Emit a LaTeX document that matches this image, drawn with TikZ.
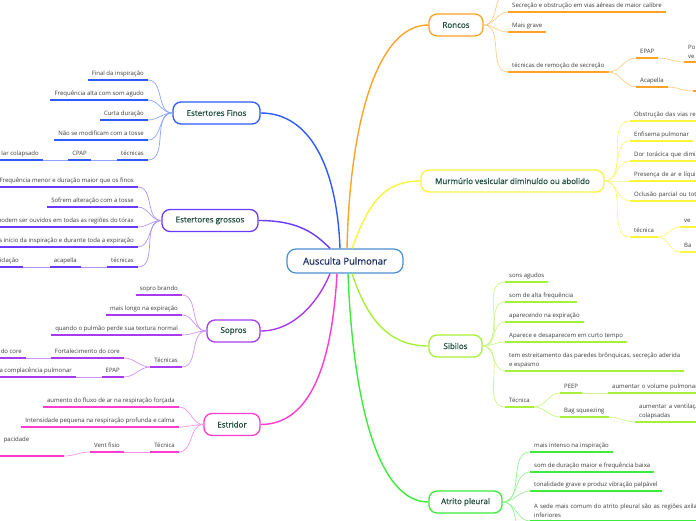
\documentclass[tikz,border=0pt]{standalone}
\usepackage{fontspec}
\setmainfont{Open Sans}
\newfontfamily\topicfont{Open Sans}[FakeBold=0.4]
\definecolor{cAU}{HTML}{4A90D0}
\definecolor{cEF}{HTML}{2D5BFF}
\definecolor{cEG}{HTML}{6A3BFF}
\definecolor{cSO}{HTML}{A83BF0}
\definecolor{cES}{HTML}{FF3BD0}
\definecolor{cRO}{HTML}{FFA326}
\definecolor{cMV}{HTML}{F7F53C}
\definecolor{cSI}{HTML}{A6F03A}
\definecolor{cAP}{HTML}{3DEB3D}
\definecolor{centraltext}{HTML}{1B2A5E}
\definecolor{topictext}{HTML}{1F4D3F}
\definecolor{leaftext}{HTML}{3A3A3A}
\newcommand{\leaffont}{\fontsize{6}{9}\selectfont}
\tikzstyle{central}=[draw=cAU,fill=white,rounded corners=9pt,line width=1.2pt,minimum width=116pt,minimum height=24pt,font=\topicfont\fontsize{9.5}{11}\selectfont,text=centraltext]
\tikzstyle{topic}=[fill=white,rounded corners=8pt,line width=1.3pt,minimum height=22pt,inner xsep=4pt,font=\topicfont\fontsize{8}{9}\selectfont,text=topictext]
\tikzstyle{leafl}=[anchor=south east,inner xsep=4pt,inner ysep=3pt,text height=4.3pt,text depth=1.3pt,font=\leaffont,text=leaftext,align=right]
\tikzstyle{leafr}=[anchor=south west,inner xsep=4pt,inner ysep=3pt,text height=4.3pt,text depth=1.3pt,font=\leaffont,text=leaftext,align=left]
\tikzstyle{asis}=[]
\tikzstyle{twoline}=[text height=,text depth=]
\tikzstyle{runoff}=[text width=95pt]
\tikzstyle{runofftwo}=[runoff,twoline]
\tikzstyle{runoffwide}=[text width=185pt,twoline]
\tikzstyle{lowtext}=[text width=56pt,align=left,text depth=11pt]
\tikzstyle{uline}=[line width=1.8pt]
\tikzstyle{twig}=[line width=0.7pt]
\tikzstyle{limb}=[line width=1.4pt]

\begin{document}
\begin{tikzpicture}[x=1pt,y=-1pt]
\useasboundingbox (0,0) rectangle (696,520);

%topics
\node[central] (ausc) at (345,261) {Ausculta Pulmonar};
\foreach \pos/\name/\wid/\col/\label in {{(216.5,113)/ef/87/cEF/Estertores Finos}, {(210,220.5)/eg/96/cEG/Estertores grossos}, {(233.5,331)/sop/53/cSO/Sopros}, {(232,424.5)/est/56/cES/Estridor}, {(456,25)/ron/54/cRO/Roncos}, {(512.5,181)/mur/183/cMV/Murmúrio vesicular diminuído ou abolido}, {(455.5,346)/sib/53/cSI/Sibilos}, {(465.5,502)/atr/73/cAP/Atrito pleural}}
    \node[topic,draw=\col,minimum width=\wid pt] (\name) at \pos {\label};

\draw[limb,cEF] ([xshift=-5pt]ausc.north) .. controls +(-3,-80) and +(50,0) .. (ef.east);
\draw[limb,cEG] ([xshift=-15pt]ausc.north) .. controls +(-15,-15) and +(40,0) .. (eg.east);
\draw[limb,cSO] ([xshift=-15pt]ausc.south) .. controls +(-10,25) and +(35,0) .. (sop.east);
\draw[limb,cES] ([xshift=-8pt]ausc.south) .. controls +(-5,90) and +(50,0) .. (est.east);
\draw[limb,cRO] ([xshift=2pt]ausc.north) .. controls +(3,-130) and +(-50,0) .. (ron.west);
\draw[limb,cMV] ([xshift=7pt]ausc.north) .. controls +(15,-40) and +(-40,0) .. (mur.west);
\draw[limb,cSI] ([xshift=7pt]ausc.south) .. controls +(15,45) and +(-40,0) .. (sib.west);
\draw[limb,cAP] ([xshift=3pt]ausc.south) .. controls +(5,130) and +(-50,0) .. (atr.west);

%Estertores Finos
\def\col{cEF}
\foreach \pos/\name/\sty/\label in {{(148,80)/ef1/asis/Final da inspiração}, {(148,100)/ef2/asis/Frequência alta com som agudo}, {(148,120)/ef3/asis/Curta duração}, {(148,140)/ef4/asis/Não se modificam com a tosse}, {(148,160)/ef5/asis/técnicas}, {(91,160)/ef6/asis/CPAP}, {(43,160)/ef7/asis/lar colapsado}}
    \node[leafl,\sty] (\name) at \pos {\label};
\foreach \name in {ef1,ef2,ef3,ef4,ef5}
    \draw[twig,color=\col!55] (ef.west) to[out=180,in=0] (\name.south east);
\foreach \source/\dest in {ef5/ef6, ef6/ef7}
    \draw[twig,color=\col!55] (\source.south west) -- (\dest.south east);
\foreach \name in {ef1,ef2,ef3,ef4,ef5,ef6,ef7}
    \draw[uline,color=\col] (\name.south west) -- (\name.south east);

%Estertores grossos
\def\col{cEG}
\foreach \pos/\name/\sty/\label in {{(138,187)/eg1/asis/Frequência menor e duração maior que os finos}, {(138,207)/eg2/asis/Sofrem alteração com a tosse}, {(138,227)/eg3/asis/podem ser ouvidos em todas as regiões do tórax}, {(138,247)/eg4/asis/s início da inspiração e durante toda a expiração}, {(138,267)/eg5/asis/técnicas}, {(81,267)/eg6/asis/acapella}, {(23,267)/eg7/asis/ciclação}}
    \node[leafl,\sty] (\name) at \pos {\label};
\foreach \name in {eg1,eg2,eg3,eg4,eg5}
    \draw[twig,color=\col!55] (eg.west) to[out=180,in=0] (\name.south east);
\foreach \source/\dest in {eg5/eg6, eg6/eg7}
    \draw[twig,color=\col!55] (\source.south west) -- (\dest.south east);
\foreach \name in {eg1,eg2,eg3,eg4,eg5,eg6,eg7}
    \draw[uline,color=\col] (\name.south west) -- (\name.south east);

%Sopros
\def\col{cSO}
\foreach \pos/\name/\sty/\label in {{(182,295)/so1/asis/sopro brando}, {(182,315)/so2/asis/mais longo na expiração}, {(182,335)/so3/asis/quando o pulmão perde sua textura normal}, {(182,367)/so4/asis/Técnicas}, {(124,358)/so5/asis/Fortalecimento do core}, {(124,377)/so6/asis/EPAP}, {(26,358)/so7/asis/do core}, {(76,377)/so8/asis/a complacência pulmonar}}
    \node[leafl,\sty] (\name) at \pos {\label};
\foreach \name in {so1,so2,so3,so4}
    \draw[twig,color=\col!55] (sop.west) to[out=180,in=0] (\name.south east);
\foreach \source/\dest in {so4/so5, so4/so6}
    \draw[twig,color=\col!55] (\source.south west) to[out=180,in=0] (\dest.south east);
\foreach \source/\dest in {so5/so7, so6/so8}
    \draw[twig,color=\col!55] (\source.south west) -- (\dest.south east);
\foreach \name in {so1,so2,so3,so4,so5,so6,so7,so8}
    \draw[uline,color=\col] (\name.south west) -- (\name.south east);

%Estridor
\def\col{cES}
\foreach \pos/\name/\sty/\label in {{(179,407)/es1/asis/aumento do fluxo de ar na respiração forçada}, {(179,427)/es2/asis/Intensidade pequena na respiração profunda e calma}, {(179,452)/es3/asis/Técnica}, {(124,452)/es4/asis/Vent fisio}, {(64,456)/es5/lowtext/pacidade}}
    \node[leafl,\sty] (\name) at \pos {\label};
\foreach \name in {es1,es2,es3}
    \draw[twig,color=\col!55] (est.west) to[out=180,in=0] (\name.south east);
\draw[twig,color=\col!55] (es3.south west) -- (es4.south east);
\draw[twig,color=\col!55] (es4.south west) to[out=180,in=0] (es5.south east);
\foreach \name in {es1,es2,es3,es4,es5}
    \draw[uline,color=\col] (\name.south west) -- (\name.south east);

%Roncos
\def\col{cRO}
\coordinate (ro0) at (508,-8);
\foreach \pos/\name/\sty/\label in {{(508,12)/ro1/asis/Secreção e obstrução em vias aéreas de maior calibre}, {(508,32)/ro2/asis/Mais grave}, {(508,72)/ro3/asis/técnicas de remoção de secreção}, {(636,58)/ro4/asis/EPAP}, {(636,87)/ro5/asis/Acapella}, {(684,62)/ro6/runofftwo/Po\\ve}, {(693,91)/ro7/runoff/{}}}
    \node[leafr,\sty] (\name) at \pos {\label};
\draw[twig,color=\col!55] (ron.east) to[out=0,in=180] (ro0);
\foreach \name in {ro1,ro2,ro3}
    \draw[twig,color=\col!55] (ron.east) to[out=0,in=180] (\name.south west);
\foreach \source/\dest in {ro3/ro4, ro3/ro5, ro4/ro6, ro5/ro7}
    \draw[twig,color=\col!55] (\source.south east) to[out=0,in=180] (\dest.south west);
\foreach \name in {ro1,ro2,ro3,ro4,ro5,ro6,ro7}
    \draw[uline,color=\col] (\name.south west) -- (\name.south east);

%Murmurio vesicular
\def\col{cMV}
\foreach \pos/\name/\sty/\label in {{(630,121)/mv1/runoff/Obstrução das vias re}, {(630,141)/mv2/asis/Enfisema pulmonar}, {(630,161)/mv3/runoff/Dor torácica que dimi}, {(630,181)/mv4/runoff/Presença de ar e líqui}, {(630,201)/mv5/runoff/Oclusão parcial ou tota}, {(630,237)/mv6/asis/técnica}, {(680,227)/mv7/runoff/ve}, {(680,252)/mv8/runoff/Ba}}
    \node[leafr,\sty] (\name) at \pos {\label};
\foreach \name in {mv1,mv2,mv3,mv4,mv5,mv6}
    \draw[twig,color=\col!70] (mur.east) to[out=0,in=180] (\name.south west);
\foreach \source/\dest in {mv6/mv7, mv6/mv8}
    \draw[twig,color=\col!70] (\source.south east) to[out=0,in=180] (\dest.south west);
\foreach \name in {mv1,mv2,mv3,mv4,mv5,mv6,mv7,mv8}
    \draw[uline,color=\col] (\name.south west) -- (\name.south east);

%Sibilos
\def\col{cSI}
\foreach \pos/\name/\sty/\label in {{(505,282)/si1/asis/sons agudos}, {(505,302)/si2/asis/som de alta frequência}, {(505,322)/si3/asis/aparecendo na expiração}, {(505,342)/si4/asis/Aparece e desaparecem em curto tempo}, {(505,371)/si5/twoline/{tem estreitamento das paredes brônquicas, secreção aderida\\e espasmo}}, {(505,407)/si6/asis/Técnica}, {(560,393)/si7/asis/PEEP}, {(560,417)/si8/asis/Bag squeezing}, {(608,393)/si9/runoff/aumentar o volume pulmonar}, {(635,422)/si10/runofftwo/aumentar a ventilação\\colapsadas}}
    \node[leafr,\sty] (\name) at \pos {\label};
\foreach \name in {si1,si2,si3,si4,si5,si6}
    \draw[twig,color=\col!60] (sib.east) to[out=0,in=180] (\name.south west);
\foreach \source/\dest in {si6/si7, si6/si8, si8/si10}
    \draw[twig,color=\col!60] (\source.south east) to[out=0,in=180] (\dest.south west);
\draw[twig,color=\col!60] (si7.south east) -- (si9.south west);
\foreach \name in {si1,si2,si3,si4,si5,si6,si7,si8,si9,si10}
    \draw[uline,color=\col] (\name.south west) -- (\name.south east);

%Atrito pleural
\def\col{cAP}
\coordinate (ap5) at (530,545);
\foreach \pos/\name/\sty/\label in {{(530,452)/ap1/asis/mais intenso na inspiração}, {(530,472)/ap2/asis/som de duração maior e frequência baixa}, {(530,491)/ap3/asis/tonalidade grave e produz vibração palpável}, {(530,521)/ap4/runoffwide/A sede mais comum do atrito pleural são as regiões axilar\\inferiores}}
    \node[leafr,\sty] (\name) at \pos {\label};
\draw[twig,color=\col!55] (atr.east) to[out=0,in=180] (ap5);
\foreach \name in {ap1,ap2,ap3,ap4}
    \draw[twig,color=\col!55] (atr.east) to[out=0,in=180] (\name.south west);
\foreach \name in {ap1,ap2,ap3,ap4}
    \draw[uline,color=\col] (\name.south west) -- (\name.south east);

\end{tikzpicture}
\end{document}
